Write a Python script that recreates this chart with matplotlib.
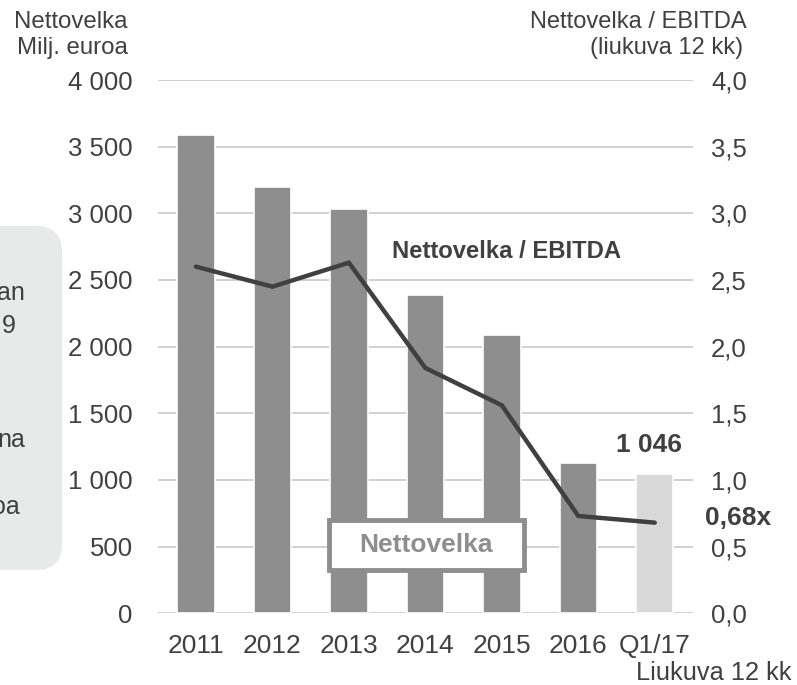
import matplotlib
matplotlib.use("Agg")
import matplotlib.pyplot as plt
from matplotlib.patches import FancyBboxPatch, Rectangle
from matplotlib.transforms import Affine2D

plt.rcParams['font.family'] = ['Liberation Sans', 'DejaVu Sans']

categories = ['2011', '2012', '2013', '2014', '2015', '2016', 'Q1/17']
net_debt = [3585, 3200, 3030, 2390, 2090, 1125, 1046]
ratio = [2.60, 2.45, 2.63, 1.84, 1.56, 0.73, 0.68]
bar_colors = ['#8e8e8e'] * 6 + ['#d9d9d9']
left_ticks = [0, 500, 1000, 1500, 2000, 2500, 3000, 3500, 4000]
left_labels = ['0', '500', '1 000', '1 500', '2 000', '2 500', '3 000', '3 500', '4 000']
right_ticks = [0.0, 0.5, 1.0, 1.5, 2.0, 2.5, 3.0, 3.5, 4.0]
right_labels = ['0,0', '0,5', '1,0', '1,5', '2,0', '2,5', '3,0', '3,5', '4,0']
last_debt_label = '1 046'
last_ratio_label = '0,68x'
side_text = [('an', 25, 293), ('9', 16, 326), ('na', 25, 440), ('oa', 20, 507)]

W, H = 797, 685
TXT = '#404040'
fig = plt.figure(figsize=(W / 100, H / 100), dpi=100)
fig.patch.set_facecolor('white')

# pixel transform (top-left origin)
pix = Affine2D().scale(1 / W, -1 / H).translate(0, 1) + fig.transFigure

# left cropped gray box
fig.patches.append(FancyBboxPatch((-40, 226), 102, 344, boxstyle='round,pad=0,rounding_size=26',
                                  transform=pix, fc='#e8e9e9', ec='none', zorder=0))
for t, x, y in side_text:
    fig.text(x, y, t, transform=pix, ha='right', va='center', fontsize=18, color=TXT)

ax = fig.add_axes([157.7 / W, 71.7 / H, (693 - 157.7) / W, (613.3 - 80) / H])
ax.set_facecolor('none')
x = list(range(len(categories)))
ax.bar(x, net_debt, width=0.49, color=bar_colors, edgecolor='white', linewidth=1.2, zorder=2)
ax.set_xlim(-0.5, len(categories) - 0.5)
ax.set_ylim(0, 4000)
ax.set_yticks(left_ticks)
ax.set_yticklabels(left_labels)
ax.set_xticks(x)
ax.set_xticklabels(categories)
ax.yaxis.grid(True, color='#d0d0d0', linewidth=1.4, zorder=0)
ax.set_axisbelow(True)
for s in ax.spines.values():
    s.set_visible(False)
ax.tick_params(axis='y', length=0, pad=18, labelsize=18.5, labelcolor=TXT)
ax.tick_params(axis='x', length=0, pad=15, labelsize=19, labelcolor=TXT)

ax2 = ax.twinx()
ax2.set_ylim(0, 4.0)
ax2.set_yticks(right_ticks)
ax2.set_yticklabels(right_labels)
for s in ax2.spines.values():
    s.set_visible(False)
ax2.tick_params(axis='y', length=0, pad=13, labelsize=18.5, labelcolor=TXT)
ax2.plot(x, ratio, color='#404040', linewidth=3.2, solid_capstyle='round', solid_joinstyle='miter', zorder=5)

ax.annotate(last_debt_label, (x[-1], net_debt[-1]), xytext=(-4, 12), textcoords='offset points',
            ha='center', va='bottom', fontsize=19, fontweight='bold', color=TXT)
ax2.annotate(last_ratio_label, (x[-1], ratio[-1]), xytext=(36, 3.5), textcoords='offset points',
             ha='left', va='center', fontsize=19, fontweight='bold', color=TXT)
ax2.text(391.7, 251.7, 'Nettovelka / EBITDA', transform=pix, ha='left', va='center',
         fontsize=17.2, fontweight='bold', color=TXT)

# series label box
fig.patches.append(Rectangle((329, 520.5), 195.5, 50, transform=pix, fc='white', ec='#8e8e8e',
                             lw=3.5, zorder=10))
fig.text(426, 545, 'Nettovelka', transform=pix, ha='center', va='center', fontsize=19,
         fontweight='bold', color='#8e8e8e', zorder=11)

# axis titles
fig.text(128, 22, 'Nettovelka', transform=pix, ha='right', va='center', fontsize=17.3, color=TXT)
fig.text(128, 48, 'Milj. euroa', transform=pix, ha='right', va='center', fontsize=17.3, color=TXT)
fig.text(747, 22, 'Nettovelka / EBITDA', transform=pix, ha='right', va='center', fontsize=17, color=TXT)
fig.text(743, 48, '(liukuva 12 kk)', transform=pix, ha='right', va='center', fontsize=17, color=TXT)
fig.text(792, 673, 'Liukuva 12 kk', transform=pix, ha='right', va='center', fontsize=18.3, color=TXT)

fig.savefig('out.png', dpi=100, facecolor='white')
